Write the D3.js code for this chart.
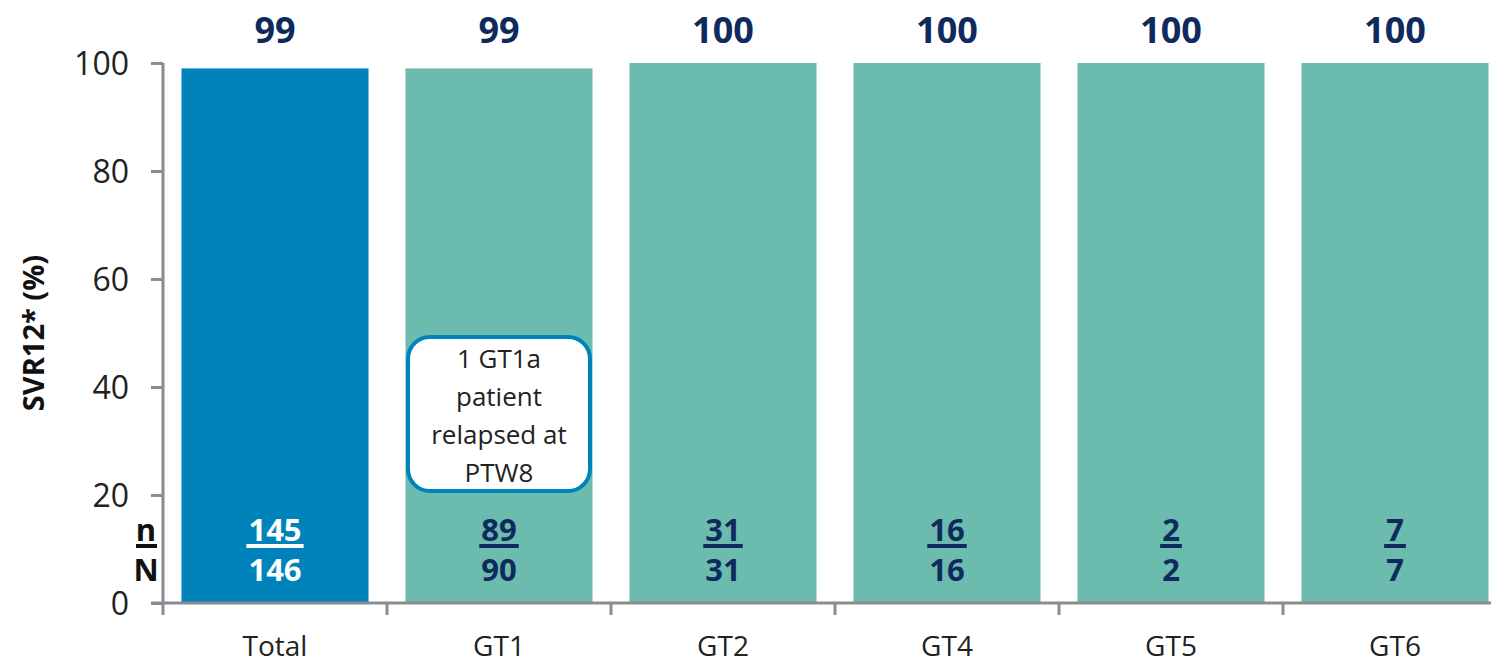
<!DOCTYPE html>
<html>
<head>
<meta charset="utf-8">
<script src="https://cdn.jsdelivr.net/npm/d3@7"></script>
<style>
  body { margin: 0; background: #fff; }
  svg { display: block; font-family: "Open Sans", sans-serif; }
  svg text { font-family: "Open Sans", sans-serif; }
</style>
</head>
<body>
<svg width="1491" height="665"></svg>
<script>
var categories = ["Total", "GT1", "GT2", "GT4", "GT5", "GT6"];
var svrValues = [99, 99, 100, 100, 100, 100];
var nValues = [145, 89, 31, 16, 2, 7];
var bigNValues = [146, 90, 31, 16, 2, 7];
var yTicks = [0, 20, 40, 60, 80, 100];
var noteLines = ["1 GT1a", "patient", "relapsed at", "PTW8"];

var svg = d3.select("svg"),
    margin = {top: 63, left: 163, bottom: 62},
    step = 224,
    height = 665 - margin.top - margin.bottom;

var axisColor = "#8a8c94",
    navy = "#0f2a5c",
    blue = "#0083bb",
    teal = "#6bbbaf";

var x = d3.scaleBand()
    .domain(categories)
    .range([margin.left, margin.left + step * categories.length])
    .paddingInner(0.165)
    .paddingOuter(0.0825);

var y = d3.scaleLinear().domain([0, 100]).range([margin.top + height, margin.top]);

// bars
svg.selectAll(".bar")
    .data(categories)
    .enter().append("rect")
    .attr("class", "bar")
    .attr("x", function(d) { return x(d); })
    .attr("y", function(d, i) { return y(svrValues[i]); })
    .attr("width", x.bandwidth())
    .attr("height", function(d, i) { return y(0) - y(svrValues[i]); })
    .attr("fill", function(d, i) { return i === 0 ? blue : teal; });

// y axis
var yAxis = svg.append("g")
    .attr("transform", "translate(" + margin.left + ",0)")
    .call(d3.axisLeft(y).tickValues(yTicks).tickSize(12).tickPadding(22));
yAxis.attr("font-family", null).attr("font-size", null);
yAxis.select(".domain").attr("stroke", axisColor).attr("stroke-width", 3)
    .attr("d", "M0," + y(100) + "V" + y(0));
yAxis.selectAll(".tick line").attr("stroke", axisColor).attr("stroke-width", 3);
yAxis.selectAll(".tick text")
    .attr("fill", "#222").style("font-size", "32px").attr("dy", "0.36em");

svg.append("text")
    .attr("transform", "translate(44," + y(50) + ") rotate(-90)")
    .attr("text-anchor", "middle")
    .attr("fill", "#111")
    .style("font-size", "29px")
    .style("font-weight", "bold")
    .text("SVR12* (%)");

// x axis
var xAxis = svg.append("g")
    .attr("transform", "translate(0," + y(0) + ")")
    .call(d3.axisBottom(x).tickSize(0).tickPadding(33));
xAxis.attr("font-family", null).attr("font-size", null);
xAxis.select(".domain").remove();
xAxis.selectAll(".tick text").attr("fill", "#222").style("font-size", "28px");
svg.append("line")
    .attr("x1", margin.left - 12).attr("x2", 1491)
    .attr("y1", y(0)).attr("y2", y(0))
    .attr("stroke", axisColor).attr("stroke-width", 3);
svg.selectAll(".xtick")
    .data(categories)
    .enter().append("line")
    .attr("class", "xtick")
    .attr("x1", function(d) { return x(d) - x.step() * 0.0825; })
    .attr("x2", function(d) { return x(d) - x.step() * 0.0825; })
    .attr("y1", y(0)).attr("y2", y(0) + 12)
    .attr("stroke", axisColor).attr("stroke-width", 3);

// value labels above bars
svg.selectAll(".val")
    .data(categories)
    .enter().append("text")
    .attr("class", "val")
    .attr("x", function(d) { return x(d) + x.bandwidth() / 2; })
    .attr("y", 43)
    .attr("text-anchor", "middle")
    .attr("fill", navy)
    .style("font-size", "36px")
    .style("font-weight", "bold")
    .text(function(d, i) { return svrValues[i]; });

// n / N fractions
var frac = svg.selectAll(".frac")
    .data(categories)
    .enter().append("g")
    .attr("class", "frac")
    .attr("transform", function(d) { return "translate(" + (x(d) + x.bandwidth() / 2) + ",0)"; });
frac.append("text")
    .attr("class", "num")
    .attr("y", 541)
    .attr("text-anchor", "middle")
    .attr("fill", function(d, i) { return i === 0 ? "#fff" : navy; })
    .style("font-size", "31px").style("font-weight", "bold")
    .text(function(d, i) { return nValues[i]; });
frac.append("text")
    .attr("y", 581)
    .attr("text-anchor", "middle")
    .attr("fill", function(d, i) { return i === 0 ? "#fff" : navy; })
    .style("font-size", "31px").style("font-weight", "bold")
    .text(function(d, i) { return bigNValues[i]; });
frac.each(function(d, i) {
    var w = d3.select(this).select(".num").node().getComputedTextLength() + 4;
    d3.select(this).append("rect")
        .attr("x", -w / 2).attr("y", 544).attr("width", w).attr("height", 4)
        .attr("fill", i === 0 ? "#fff" : navy);
});

// n / N key on the left
svg.append("text").attr("x", 146).attr("y", 541).attr("text-anchor", "middle")
    .attr("fill", "#111").style("font-size", "31px").style("font-weight", "bold").text("n");
svg.append("rect").attr("x", 136).attr("y", 544).attr("width", 21).attr("height", 4).attr("fill", "#111");
svg.append("text").attr("x", 146).attr("y", 581).attr("text-anchor", "middle")
    .attr("fill", "#111").style("font-size", "31px").style("font-weight", "bold").text("N");

// annotation box
var noteX = x("GT1") + x.bandwidth() / 2;
svg.append("rect")
    .attr("x", noteX - 91).attr("y", 337)
    .attr("width", 182).attr("height", 154)
    .attr("rx", 22).attr("ry", 22)
    .attr("fill", "#fff").attr("stroke", blue).attr("stroke-width", 4);
svg.selectAll(".note")
    .data(noteLines)
    .enter().append("text")
    .attr("class", "note")
    .attr("x", noteX)
    .attr("y", function(d, i) { return 368 + i * 38; })
    .attr("text-anchor", "middle")
    .attr("fill", "#222")
    .style("font-size", "26px")
    .text(function(d) { return d; });
</script>
</body>
</html>
